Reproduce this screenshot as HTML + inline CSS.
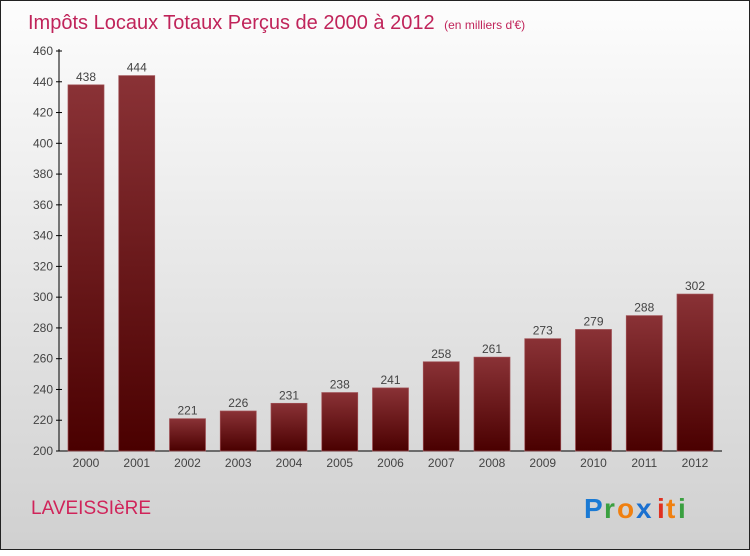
<!DOCTYPE html>
<html><head><meta charset="utf-8"><style>
body{margin:0;width:750px;height:550px;overflow:hidden;font-family:"Liberation Sans",sans-serif}
#wrap{position:absolute;left:0;top:0;width:748px;height:548px;border:1px solid #222;background:linear-gradient(#fdfdfd,#d0d0d0)}
</style></head><body>
<div id="wrap">
<svg width="750" height="550">
<defs><linearGradient id="g" x1="0" y1="0" x2="0" y2="1"><stop offset="0" stop-color="#8a3236"/><stop offset="1" stop-color="#4a0000"/></linearGradient></defs>
<text x="27" y="28" font-size="20" fill="#c0245a">Impôts Locaux Totaux Perçus de 2000 à 2012 <tspan font-size="12" dx="4">(en milliers d'€)</tspan></text>
<g id="plot"></g>
<text x="30" y="513" font-size="19" fill="#d0245a">LAVEISSIèRE</text>
<g font-size="28" font-weight="bold">
<text x="583" y="517" fill="#1a7ad4">P</text><text x="603" y="517" fill="#3aa040">r</text><text x="616" y="517" fill="#f08010">o</text><text x="635" y="517" fill="#1a70d0">x</text><text x="656" y="517" fill="#e03020">i</text><text x="665" y="517" fill="#f08010">t</text><text x="677" y="517" fill="#3aa040">i</text></g>
</svg></div>
<script>
const years=["2000","2001","2002","2003","2004","2005","2006","2007","2008","2009","2010","2011","2012"];
const values=[438,444,221,226,231,238,241,258,261,273,279,288,302];
const yTicks=[200,220,240,260,280,300,320,340,360,380,400,420,440,460];
const NS="http://www.w3.org/2000/svg";
const g=document.getElementById('plot');
const y0=200,y1=460,py0=450,py1=50;
const ys=v=>py0-(v-y0)/(y1-y0)*(py0-py1);
const xs=i=>85+i*50.75;
function mk(t,a,p){const e=document.createElementNS(NS,t);for(const k in a)e.setAttribute(k,a[k]);(p||g).appendChild(e);return e;}
let ax=mk('line',{x1:58,y1:py1-2,x2:58,y2:py0,stroke:'#000'});


let bx=mk('line',{x1:58,y1:py0,x2:721,y2:py0,stroke:'#000'});


yTicks.forEach(v=>{
 mk('line',{x1:55,x2:61,y1:ys(v),y2:ys(v),stroke:'#000'});
 const t=mk('text',{x:52,y:ys(v)+4,'font-size':12,'text-anchor':'end',fill:'#444'});t.textContent=v;
 
 
});
values.forEach((v,i)=>{
 const r=mk('rect',{x:xs(i)-18,y:ys(v),width:36,height:py0-ys(v),fill:'url(#g)',stroke:'#a05055','stroke-width':0.7});
 
 
 const l=mk('text',{x:xs(i),y:ys(v)-4,'font-size':12,'text-anchor':'middle',fill:'#444'});l.textContent=v;
 
 
 const c=mk('text',{x:xs(i),y:466,'font-size':12,'text-anchor':'middle',fill:'#444'});c.textContent=years[i];
 
 
});
</script>
</body></html>
